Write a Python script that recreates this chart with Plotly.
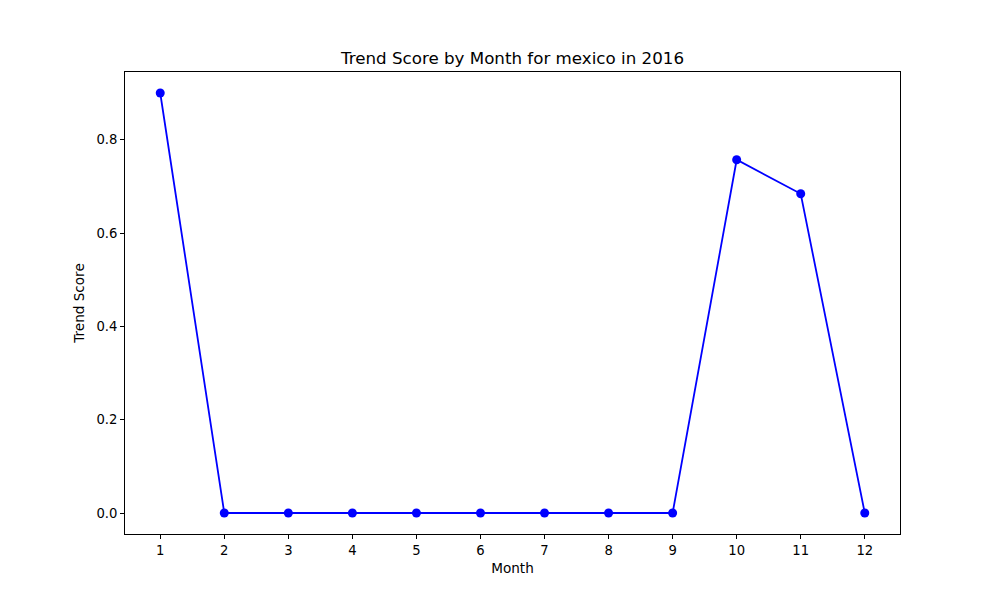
import plotly.graph_objects as go

months = [1, 2, 3, 4, 5, 6, 7, 8, 9, 10, 11, 12]
scores = [0.90, 0, 0, 0, 0, 0, 0, 0, 0, 0.757, 0.684, 0]
x_ticks = months
y_ticks = [0.0, 0.2, 0.4, 0.6, 0.8]

fig = go.Figure(go.Scatter(
    x=months, y=scores, mode="lines+markers",
    line=dict(color="blue", width=1.8),
    marker=dict(color="blue", size=9),
))

axis_common = dict(
    showgrid=False, zeroline=False, showline=True, mirror=True,
    linecolor="black", linewidth=1, ticks="outside", ticklen=4,
    tickcolor="black", tickfont=dict(family="DejaVu Sans", size=13.2, color="black"),
)

fig.update_layout(
    width=1000, height=600,
    margin=dict(l=117, r=108, t=64, b=74),
    paper_bgcolor="white", plot_bgcolor="white",
    title=dict(text="Trend Score by Month for mexico in 2016", x=504.5 / 1000, xanchor="center",
               y=1 - 50 / 600, yanchor="middle",
               font=dict(family="DejaVu Sans", size=16.7, color="black")),
    font=dict(family="DejaVu Sans", color="black"),
    showlegend=False,
)
fig.update_xaxes(range=[0.45, 12.55], tickvals=x_ticks, ticktext=[str(m) for m in x_ticks],
                 title=dict(text="Month", font=dict(size=13.6), standoff=6), **axis_common)
fig.update_yaxes(range=[-0.045, 0.945], tickvals=y_ticks, ticktext=[f"{v:.1f}" for v in y_ticks],
                 title=dict(text="Trend Score", font=dict(size=13.6), standoff=8), **axis_common)

fig.write_html("out.html")
